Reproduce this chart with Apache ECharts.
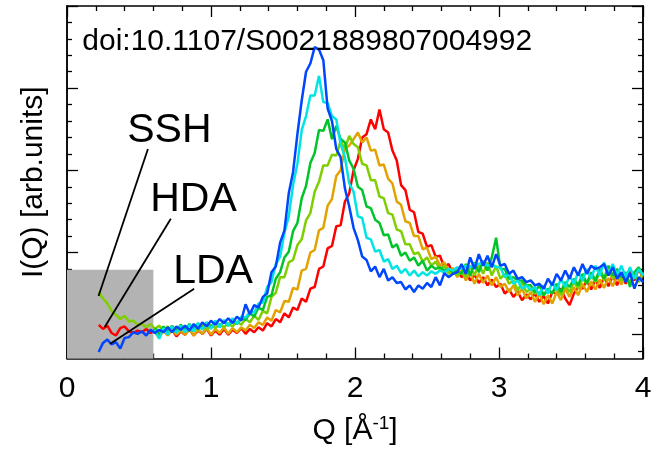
<!DOCTYPE html>
<html>
<head>
<meta charset="utf-8">
<script src="https://cdn.jsdelivr.net/npm/echarts@6/dist/echarts.min.js"></script>
<style>
html,body{margin:0;padding:0;background:#fff;}
#chart{width:665px;height:451px;}
</style>
</head>
<body>
<div id="chart"></div>
<script>
// ---- data ----
const q = [0.22,0.25,0.28,0.31,0.34,0.37,0.40,0.43,0.46,0.49,
0.52,0.55,0.58,0.61,0.64,0.67,0.70,0.73,0.76,0.79,
0.82,0.85,0.88,0.91,0.94,0.97,1.00,1.03,1.06,1.09,
1.12,1.15,1.18,1.21,1.24,1.27,1.30,1.33,1.36,1.39,
1.42,1.45,1.48,1.51,1.54,1.57,1.60,1.63,1.66,1.69,
1.72,1.75,1.78,1.81,1.84,1.87,1.90,1.93,1.96,1.99,
2.02,2.05,2.08,2.11,2.14,2.17,2.20,2.23,2.26,2.29,
2.32,2.35,2.38,2.41,2.44,2.47,2.50,2.53,2.56,2.59,
2.62,2.65,2.68,2.71,2.74,2.77,2.80,2.83,2.86,2.89,
2.92,2.95,2.98,3.01,3.04,3.07,3.10,3.13,3.16,3.19,
3.22,3.25,3.28,3.31,3.34,3.37,3.40,3.43,3.46,3.49,
3.52,3.55,3.58,3.61,3.64,3.67,3.70,3.73,3.76,3.79,
3.82,3.85,3.88,3.91,3.94,3.97,4.00];

const hdaRed = [0.12,0.07,0.11,0.02,-0.01,0.08,0.10,0.04,0.02,0.05,
0.03,0.07,0.02,0.06,-0.01,0.05,0.00,0.06,-0.02,0.04,
0.00,0.07,-0.01,0.05,0.01,0.07,-0.01,0.05,0.00,0.07,
0.00,0.06,0.02,0.08,0.01,0.07,0.03,0.09,0.05,0.14,
0.10,0.19,0.15,0.26,0.21,0.33,0.30,0.44,0.40,0.56,
0.58,0.80,0.83,1.05,1.08,1.32,1.33,1.62,1.72,2.00,
2.14,2.40,2.44,2.62,2.50,2.74,2.50,2.46,2.24,2.12,
1.82,1.76,1.52,1.49,1.25,1.23,1.07,1.09,0.95,0.96,
0.82,0.86,0.74,0.78,0.70,0.76,0.66,0.73,0.63,0.70,
0.60,0.67,0.58,0.62,0.50,0.55,0.46,0.52,0.42,0.49,
0.43,0.50,0.40,0.47,0.38,0.52,0.50,0.56,0.44,0.36,
0.50,0.58,0.56,0.66,0.55,0.67,0.57,0.70,0.59,0.72,
0.60,0.73,0.62,0.77,0.66,0.80,0.70];

const orangeSeries = [null,null,null,null,null,null,null,null,null,null,
null,null,null,0.03,-0.04,0.05,-0.01,0.06,0.00,0.05,
0.00,0.07,-0.01,0.06,0.01,0.08,0.00,0.07,0.02,0.09,
0.01,0.08,0.03,0.09,0.05,0.12,0.08,0.15,0.12,0.21,
0.17,0.30,0.27,0.41,0.40,0.57,0.55,0.78,0.80,1.00,
1.03,1.27,1.30,1.57,1.65,1.93,2.00,2.27,2.30,2.38,
2.46,2.34,2.40,2.24,2.25,2.06,2.07,1.90,1.84,1.62,
1.58,1.38,1.36,1.20,1.20,1.04,1.06,0.92,0.95,0.84,
0.88,0.78,0.81,0.70,0.78,0.66,0.76,0.62,0.74,0.63,
0.72,0.60,0.70,0.58,0.62,0.52,0.60,0.48,0.56,0.44,
0.52,0.40,0.50,0.37,0.48,0.38,0.52,0.42,0.56,0.46,
0.58,0.48,0.62,0.52,0.65,0.55,0.67,0.57,0.69,0.59,
0.71,0.61,0.73,0.63,0.74,0.65,0.76];

const sshYellowGreen = [0.52,0.44,0.38,0.29,0.24,0.19,0.23,0.16,0.17,0.12,
0.13,0.09,0.13,0.07,0.11,0.05,0.10,0.04,0.09,0.05,
0.10,0.04,0.11,0.05,0.12,0.06,0.12,0.08,0.13,0.09,
0.14,0.10,0.16,0.12,0.19,0.15,0.23,0.18,0.29,0.26,
0.46,0.51,0.70,0.70,0.88,0.91,1.09,1.16,1.39,1.48,
1.74,1.86,2.06,2.06,2.19,2.18,2.36,2.26,2.42,2.32,
2.28,2.08,2.06,1.88,1.88,1.68,1.66,1.48,1.46,1.28,
1.26,1.10,1.10,0.98,1.00,0.89,0.94,0.84,0.89,0.79,
0.84,0.74,0.78,0.72,0.76,0.70,0.84,0.72,0.86,0.74,
0.88,0.72,0.84,0.68,0.74,0.62,0.66,0.54,0.64,0.52,
0.56,0.50,0.52,0.48,0.54,0.50,0.58,0.48,0.60,0.52,
0.64,0.56,0.68,0.62,0.72,0.64,0.76,0.66,0.78,0.68,
0.74,0.66,0.70,0.62,0.74,0.64,0.74];

const greenSeries = [null,null,null,null,null,null,null,null,null,null,
null,null,null,0.08,0.01,0.10,0.03,0.11,0.04,0.12,
0.05,0.13,0.06,0.14,0.07,0.15,0.09,0.16,0.10,0.17,
0.11,0.18,0.13,0.20,0.18,0.26,0.22,0.33,0.30,0.46,
0.48,0.68,0.76,0.94,1.01,1.26,1.36,1.66,1.81,2.09,
2.21,2.49,2.48,2.62,2.38,2.54,2.38,2.34,2.12,2.02,
1.80,1.76,1.56,1.54,1.40,1.36,1.21,1.22,1.06,1.10,
0.96,1.00,0.90,0.94,0.84,0.90,0.78,0.84,0.80,0.82,
0.78,0.80,0.76,0.78,0.74,0.86,0.72,0.88,0.76,0.90,
0.78,0.94,1.18,0.80,0.80,0.68,0.70,0.66,0.66,0.60,
0.60,0.52,0.60,0.48,0.56,0.50,0.62,0.52,0.64,0.58,
0.68,0.60,0.74,0.62,0.76,0.66,0.80,0.68,0.84,0.72,
0.80,0.70,0.76,0.58,0.76,0.82,0.72];

const cyanSeries = [null,null,null,null,null,null,null,null,null,null,
null,null,null,0.06,-0.05,0.08,0.00,0.10,0.02,0.11,
0.03,0.12,0.04,0.14,0.06,0.15,0.07,0.17,0.09,0.18,
0.11,0.20,0.13,0.22,0.21,0.28,0.27,0.38,0.39,0.58,
0.64,0.86,0.95,1.24,1.44,1.82,2.08,2.49,2.66,2.91,
2.91,3.15,2.83,2.82,2.66,2.62,2.32,2.16,1.84,1.74,
1.44,1.42,1.18,1.16,1.01,1.03,0.89,0.92,0.80,0.84,
0.75,0.80,0.72,0.78,0.71,0.76,0.72,0.77,0.74,0.78,
0.76,0.80,0.78,0.82,0.80,0.84,0.82,0.86,0.86,0.88,
0.84,0.86,0.82,0.82,0.70,0.74,0.62,0.66,0.56,0.60,
0.54,0.58,0.48,0.60,0.50,0.64,0.54,0.68,0.58,0.72,
0.62,0.76,0.66,0.80,0.68,0.84,0.72,0.88,0.74,0.86,
0.72,0.84,0.70,0.82,0.68,0.80,0.72];

const ldaBlue = [-0.21,-0.10,-0.06,-0.12,-0.09,-0.17,-0.04,-0.03,0.03,0.01,
0.04,-0.01,0.06,0.02,0.06,0.03,0.09,0.03,0.10,0.06,
0.11,0.05,0.13,0.07,0.15,0.10,0.17,0.12,0.19,0.14,
0.20,0.14,0.22,0.17,0.37,0.25,0.36,0.33,0.46,0.50,
0.76,0.83,1.12,1.27,1.72,1.98,2.44,2.85,3.20,3.30,
3.50,3.47,3.34,2.75,2.60,2.26,2.16,1.78,1.56,1.30,
1.15,0.95,0.91,0.77,0.83,0.70,0.80,0.66,0.70,0.63,
0.64,0.55,0.60,0.52,0.60,0.56,0.63,0.58,0.70,0.60,
0.75,0.70,0.74,0.76,0.86,0.74,0.94,0.80,0.98,0.84,
0.96,0.82,0.98,0.84,0.86,0.74,0.78,0.68,0.70,0.64,
0.66,0.60,0.62,0.56,0.68,0.60,0.74,0.66,0.78,0.68,
0.82,0.72,0.86,0.74,0.84,0.80,0.82,0.86,0.72,0.82,
0.68,0.76,0.64,0.75,0.56,0.70,0.64];

const xTickLabels = ['0','1','2','3','4'];
const yMajorTicks = [0,1,2,3,4];
const yMinorTicks = [-0.2,0.2,0.4,0.6,0.8,1.2,1.4,1.6,1.8,2.2,2.4,2.6,2.8,3.2,3.4,3.6,3.8];

const seriesNames = ['HDA','sample b','SSH','sample d','sample e','LDA'];
const seriesColors = ['#ff0000','#e2a200','#7fcf00','#00c42a','#00e4e4','#0046ff'];
const seriesValues = [hdaRed, orangeSeries, sshYellowGreen, greenSeries, cyanSeries, ldaBlue];

// annotations (data units)
const yMin = -0.29, yMax = 4;
const shadeBox = [[0, yMin], [0.6, 0.79]];
const pointerLines = [
  [[0.562, 2.26], [0.219, 0.47]],
  [[0.721, 1.41], [0.261, 0.09]],
  [[0.883, 0.56], [0.300, -0.11]]
];
const annoTexts = [
  {text: 'SSH', at: [0.418, 2.48], size: 41},
  {text: 'HDA', at: [0.578, 1.64], size: 41},
  {text: 'LDA', at: [0.737, 0.77], size: 41},
  {text: 'doi:10.1107/S0021889807004992', at: [0.106, 3.56], size: 30}
];

const FONT = 'Liberation Sans, Arial, Helvetica, sans-serif';
const chart = echarts.init(document.getElementById('chart'), null, {renderer: 'canvas'});

function pairs(vals) {
  const out = [];
  for (let i = 0; i < q.length; i++) if (vals[i] !== null) out.push([q[i], vals[i]]);
  return out;
}

const axisLineStyle = {color: '#000', width: 1.5};
function xAx(pos, showLabel) {
  return {
    type: 'value', position: pos, min: 0, max: 4, interval: 1,
    axisLine: {show: true, onZero: false, lineStyle: axisLineStyle},
    axisTick: {show: true, inside: true, length: 11, lineStyle: {color: '#000', width: 1.3}},
    minorTick: {show: true, splitNumber: 5, length: 5, lineStyle: {color: '#000', width: 1.3}},
    splitLine: {show: false}, minorSplitLine: {show: false},
    axisLabel: {show: showLabel, fontSize: 30, color: '#000', fontFamily: FONT, margin: 15,
      formatter: v => xTickLabels[Math.round(v)]},
    name: showLabel ? 'Q [Å{sup|-1}]' : '',
    nameLocation: 'middle', nameGap: 56,
    nameTextStyle: {fontSize: 30, color: '#000', fontFamily: FONT,
      rich: {sup: {fontSize: 19, color: '#000', fontFamily: FONT, verticalAlign: 'top', padding: [0,0,14,0]}}}
  };
}
function yAx(pos, ticks, len, withName) {
  return {
    type: 'value', position: pos, min: yMin, max: yMax,
    axisLine: {show: true, onZero: false, lineStyle: axisLineStyle},
    axisTick: {show: true, inside: true, length: len, customValues: ticks, lineStyle: {color: '#000', width: 1.3}},
    axisLabel: {show: false},
    splitLine: {show: false},
    name: withName ? 'I(Q) [arb.units]' : '',
    nameLocation: 'middle', nameGap: 18, nameRotate: 90,
    nameTextStyle: {fontSize: 30, color: '#000', fontFamily: FONT}
  };
}

const series = seriesValues.map((vals, i) => ({
  name: seriesNames[i], type: 'line', data: pairs(vals),
  showSymbol: false, symbol: 'none', z: 3,
  lineStyle: {color: seriesColors[i], width: 2.5},
  itemStyle: {color: seriesColors[i]},
  xAxisIndex: 0, yAxisIndex: 0
}));
series.unshift({
  name: 'shade', type: 'line', data: [], z: 1, silent: true,
  xAxisIndex: 0, yAxisIndex: 0,
  markArea: {silent: true, itemStyle: {color: '#b3b3b3'},
    data: [[{coord: shadeBox[0]}, {coord: shadeBox[1]}]]}
});
series.push({
  name: 'pointers', type: 'line', data: [], z: 5, silent: true,
  xAxisIndex: 0, yAxisIndex: 0,
  markLine: {silent: true, symbol: ['none','none'], animation: false,
    label: {show: false},
    lineStyle: {color: '#000', width: 1.8, type: 'solid'},
    data: pointerLines.map(l => [{coord: l[0]}, {coord: l[1]}])}
});

chart.setOption({
  animation: false,
  backgroundColor: '#fff',
  grid: {left: 67, right: 22, top: 6, bottom: 88, containLabel: false},
  xAxis: [xAx('bottom', true), xAx('top', false)],
  yAxis: [yAx('left', yMajorTicks, 11, true), yAx('left', yMinorTicks, 5, false),
          yAx('right', yMajorTicks, 11, false), yAx('right', yMinorTicks, 5, false)],
  series: series
});

const gfx = annoTexts.map(t => {
  const p = chart.convertToPixel({xAxisIndex: 0, yAxisIndex: 0}, t.at);
  return {type: 'text', x: p[0], y: p[1], z: 10,
    style: {text: t.text, fill: '#000', font: t.size + 'px ' + FONT, textAlign: 'left', textVerticalAlign: 'middle'}};
});
chart.setOption({graphic: gfx});
</script>
</body>
</html>
